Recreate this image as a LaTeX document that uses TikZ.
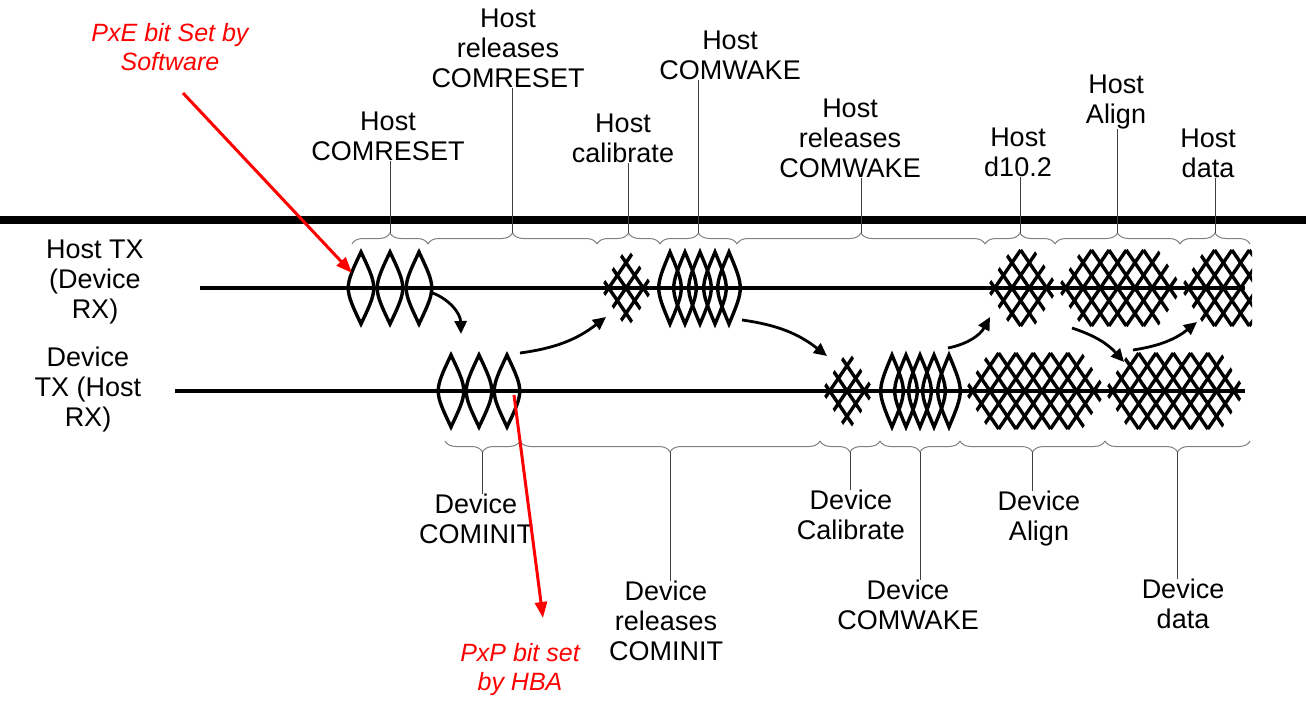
\documentclass[tikz,border=0pt]{standalone}
\usepackage{fontspec}
\setmainfont{Liberation Sans}
\usetikzlibrary{decorations.pathreplacing,arrows.meta}
\newcommand\latt[3]{%
 \begin{scope}
 \clip (#1,#3) -- (#1+26,#3-40) -- (#2-26,#3-40) -- (#2,#3) -- (#2-26,#3+40) -- (#1+26,#3+40) -- cycle;
 \foreach \k in {-4,...,14}{\draw[wave] ({#1+\k*17.3},#3+38) -- ++(52,-76); \draw[wave] ({#1+\k*17.3},#3-38) -- ++(52,76);}
 \end{scope}}
\newcommand\lattopen[3]{%
 \begin{scope}
 \clip (#1,#3) -- (#1+26,#3-40) -- (#2,#3-40) -- (#2,#3+40) -- (#1+26,#3+40) -- cycle;
 \foreach \k in {-4,...,14}{\draw[wave] ({#1+\k*17.3},#3+38) -- ++(52,-76); \draw[wave] ({#1+\k*17.3},#3-38) -- ++(52,76);}
 \end{scope}}
\newcommand\lens[3]{\draw[wave] (#1,#2-36) .. controls (#1+#3,#2) .. (#1,#2+36) .. controls (#1-#3,#2) .. cycle;}
\begin{document}
\begin{tikzpicture}[x=1pt,y=-1pt,
 wave/.style={line width=3.4pt,line join=miter},
 lbl/.style={align=center,font=\fontsize{27}{30}\selectfont,inner sep=0pt},
 red lbl/.style={align=center,font=\fontsize{25}{29}\selectfont\itshape,text=red,inner sep=0pt},
 tick/.style={line width=1pt,black!75},
 brc/.style={line width=1pt,gray,decorate,decoration={brace,amplitude=11pt}},
 flow/.style={line width=2.8pt,-{Triangle[length=13pt,width=12pt]}},
 redarr/.style={line width=3pt,red,-{Triangle[length=16pt,width=12pt]}}]
\useasboundingbox (0,0) rectangle (1306,709);
\fill[white] (0,0) rectangle (1306,709);
% main lines
\draw[line width=8pt] (0,220) -- (1306,220);
\draw[line width=3.4pt] (200,288) -- (1245,288);
\draw[line width=3.4pt] (175,391) -- (1245,391);
% waveforms host
\lens{361}{288}{17}\lens{390}{288}{17}\lens{419}{288}{17}
\latt{600}{654}{288}
\foreach \x in {670,685,700,715,729}{\lens{\x}{288}{15}}
\latt{986}{1059}{288}
\latt{1057}{1183}{288}
\lattopen{1180}{1252}{288}
% waveforms device
\lens{451}{391}{17}\lens{479}{391}{17}\lens{507}{391}{17}
\latt{821}{875}{391}
\foreach \x in {892,906,920,934,949}{\lens{\x}{391}{15}}
\latt{964}{1107}{391}
\latt{1104}{1246}{391}
% left labels
\node[lbl] (htx) at (95,282) {Host TX\\(Device\\RX)};
\node[lbl] (dtx) at (88,390) {Device\\TX (Host\\RX)};
% top braces
\draw[brc] (352,244) -- (428,244) coordinate[midway,yshift=11] (b1);
\draw[brc] (428,244) -- (597,244) coordinate[midway,yshift=11] (b2);
\draw[brc] (597,244) -- (660,244) coordinate[midway,yshift=11] (b3);
\draw[brc] (660,244) -- (737,244) coordinate[midway,yshift=11] (b4);
\draw[brc] (737,244) -- (985,244) coordinate[midway,yshift=11] (b5);
\draw[brc] (985,244) -- (1055,244) coordinate[midway,yshift=11] (b6);
\draw[brc] (1055,244) -- (1180,244) coordinate[midway,yshift=11] (b7);
\draw[brc] (1180,244) -- (1250,244) coordinate[midway,yshift=11] (b8);
\node[lbl] (t1) at (388,136) {Host\\COMRESET};
\node[lbl] (t2) at (508,48) {Host\\releases\\COMRESET};
\node[lbl] (t3) at (623,138) {Host\\calibrate};
\node[lbl] (t4) at (730,55) {Host\\COMWAKE};
\node[lbl] (t5) at (850,138) {Host\\releases\\COMWAKE};
\node[lbl] (t6) at (1018,152) {Host\\d10.2};
\node[lbl] (t7) at (1116,102) {Host\\Align};
\node[lbl] (t8) at (1208,153) {Host\\data};
\draw[tick] (b1) -- (b1|-t1.south);
\draw[tick] (b2) -- (b2|-t2.south);
\draw[tick] (b3) -- (b3|-t3.south);
\draw[tick] (b4) -- (b4|-t4.south);
\draw[tick] (b5) -- (b5|-t5.south);
\draw[tick] (b6) -- (b6|-t6.south);
\draw[tick] (b7) -- (b7|-t7.south);
\draw[tick] (b8) -- (b8|-t8.south);
% bottom braces
\draw[brc] (520,441) -- (445,441) coordinate[midway,yshift=-11] (c1);
\draw[brc] (820,441) -- (520,441) coordinate[midway,yshift=-11] (c2);
\draw[brc] (880,441) -- (820,441) coordinate[midway,yshift=-11] (c3);
\draw[brc] (960,441) -- (880,441) coordinate[midway,yshift=-11] (c4);
\draw[brc] (1105,441) -- (960,441) coordinate[midway,yshift=-11] (c5);
\draw[brc] (1250,441) -- (1105,441) coordinate[midway,yshift=-11] (c6);
\node[lbl] (d1) at (476,519) {Device\\COMINIT};
\node[lbl] (d2) at (666,621) {Device\\releases\\COMINIT};
\node[lbl] (d3) at (851,515) {Device\\Calibrate};
\node[lbl] (d4) at (908,605) {Device\\COMWAKE};
\node[lbl] (d5) at (1039,519) {Device\\Align};
\node[lbl] (d6) at (1183,604) {Device\\data};
\draw[tick] (c1) -- (c1|-d1.north);
\draw[tick] (c2) -- (c2|-d2.north);
\draw[tick] (c3) -- (c3|-d3.north);
\draw[tick] (c4) -- (c4|-d4.north);
\draw[tick] (c5) -- (c5|-d5.north);
\draw[tick] (c6) -- (c6|-d6.north);
% flow arrows
\coordinate (f1a) at (430,292); \coordinate (f1b) at (461,334);
\coordinate (f2a) at (520,353); \coordinate (f2b) at (606,317);
\coordinate (f3a) at (742,320); \coordinate (f3b) at (827,356);
\coordinate (f4a) at (948,348); \coordinate (f4b) at (990,317);
\coordinate (f5a) at (1072,328); \coordinate (f5b) at (1124,362);
\coordinate (f6a) at (1133,350); \coordinate (f6b) at (1197,322);
\draw[flow] (f1a) to[bend left=35] (f1b);
\draw[flow] (f2a) to[bend right=15] (f2b);
\draw[flow] (f3a) to[bend left=15] (f3b);
\draw[flow] (f4a) to[bend right=25] (f4b);
\draw[flow] (f5a) to[bend left=15] (f5b);
\draw[flow] (f6a) to[bend right=15] (f6b);
% red annotations
\node[red lbl] (pxe) at (170,47) {PxE bit Set by\\Software};
\node[red lbl] (pxp) at (520,670) {PxP bit set\\by HBA};
\coordinate (pxes) at (183,93); \coordinate (pxee) at (352,273);
\coordinate (pxps) at (514,395); \coordinate (pxpe) at (543,618);
\draw[redarr] (pxes) -- (pxee);
\draw[redarr] (pxps) -- (pxpe);
\end{tikzpicture}
\end{document}
